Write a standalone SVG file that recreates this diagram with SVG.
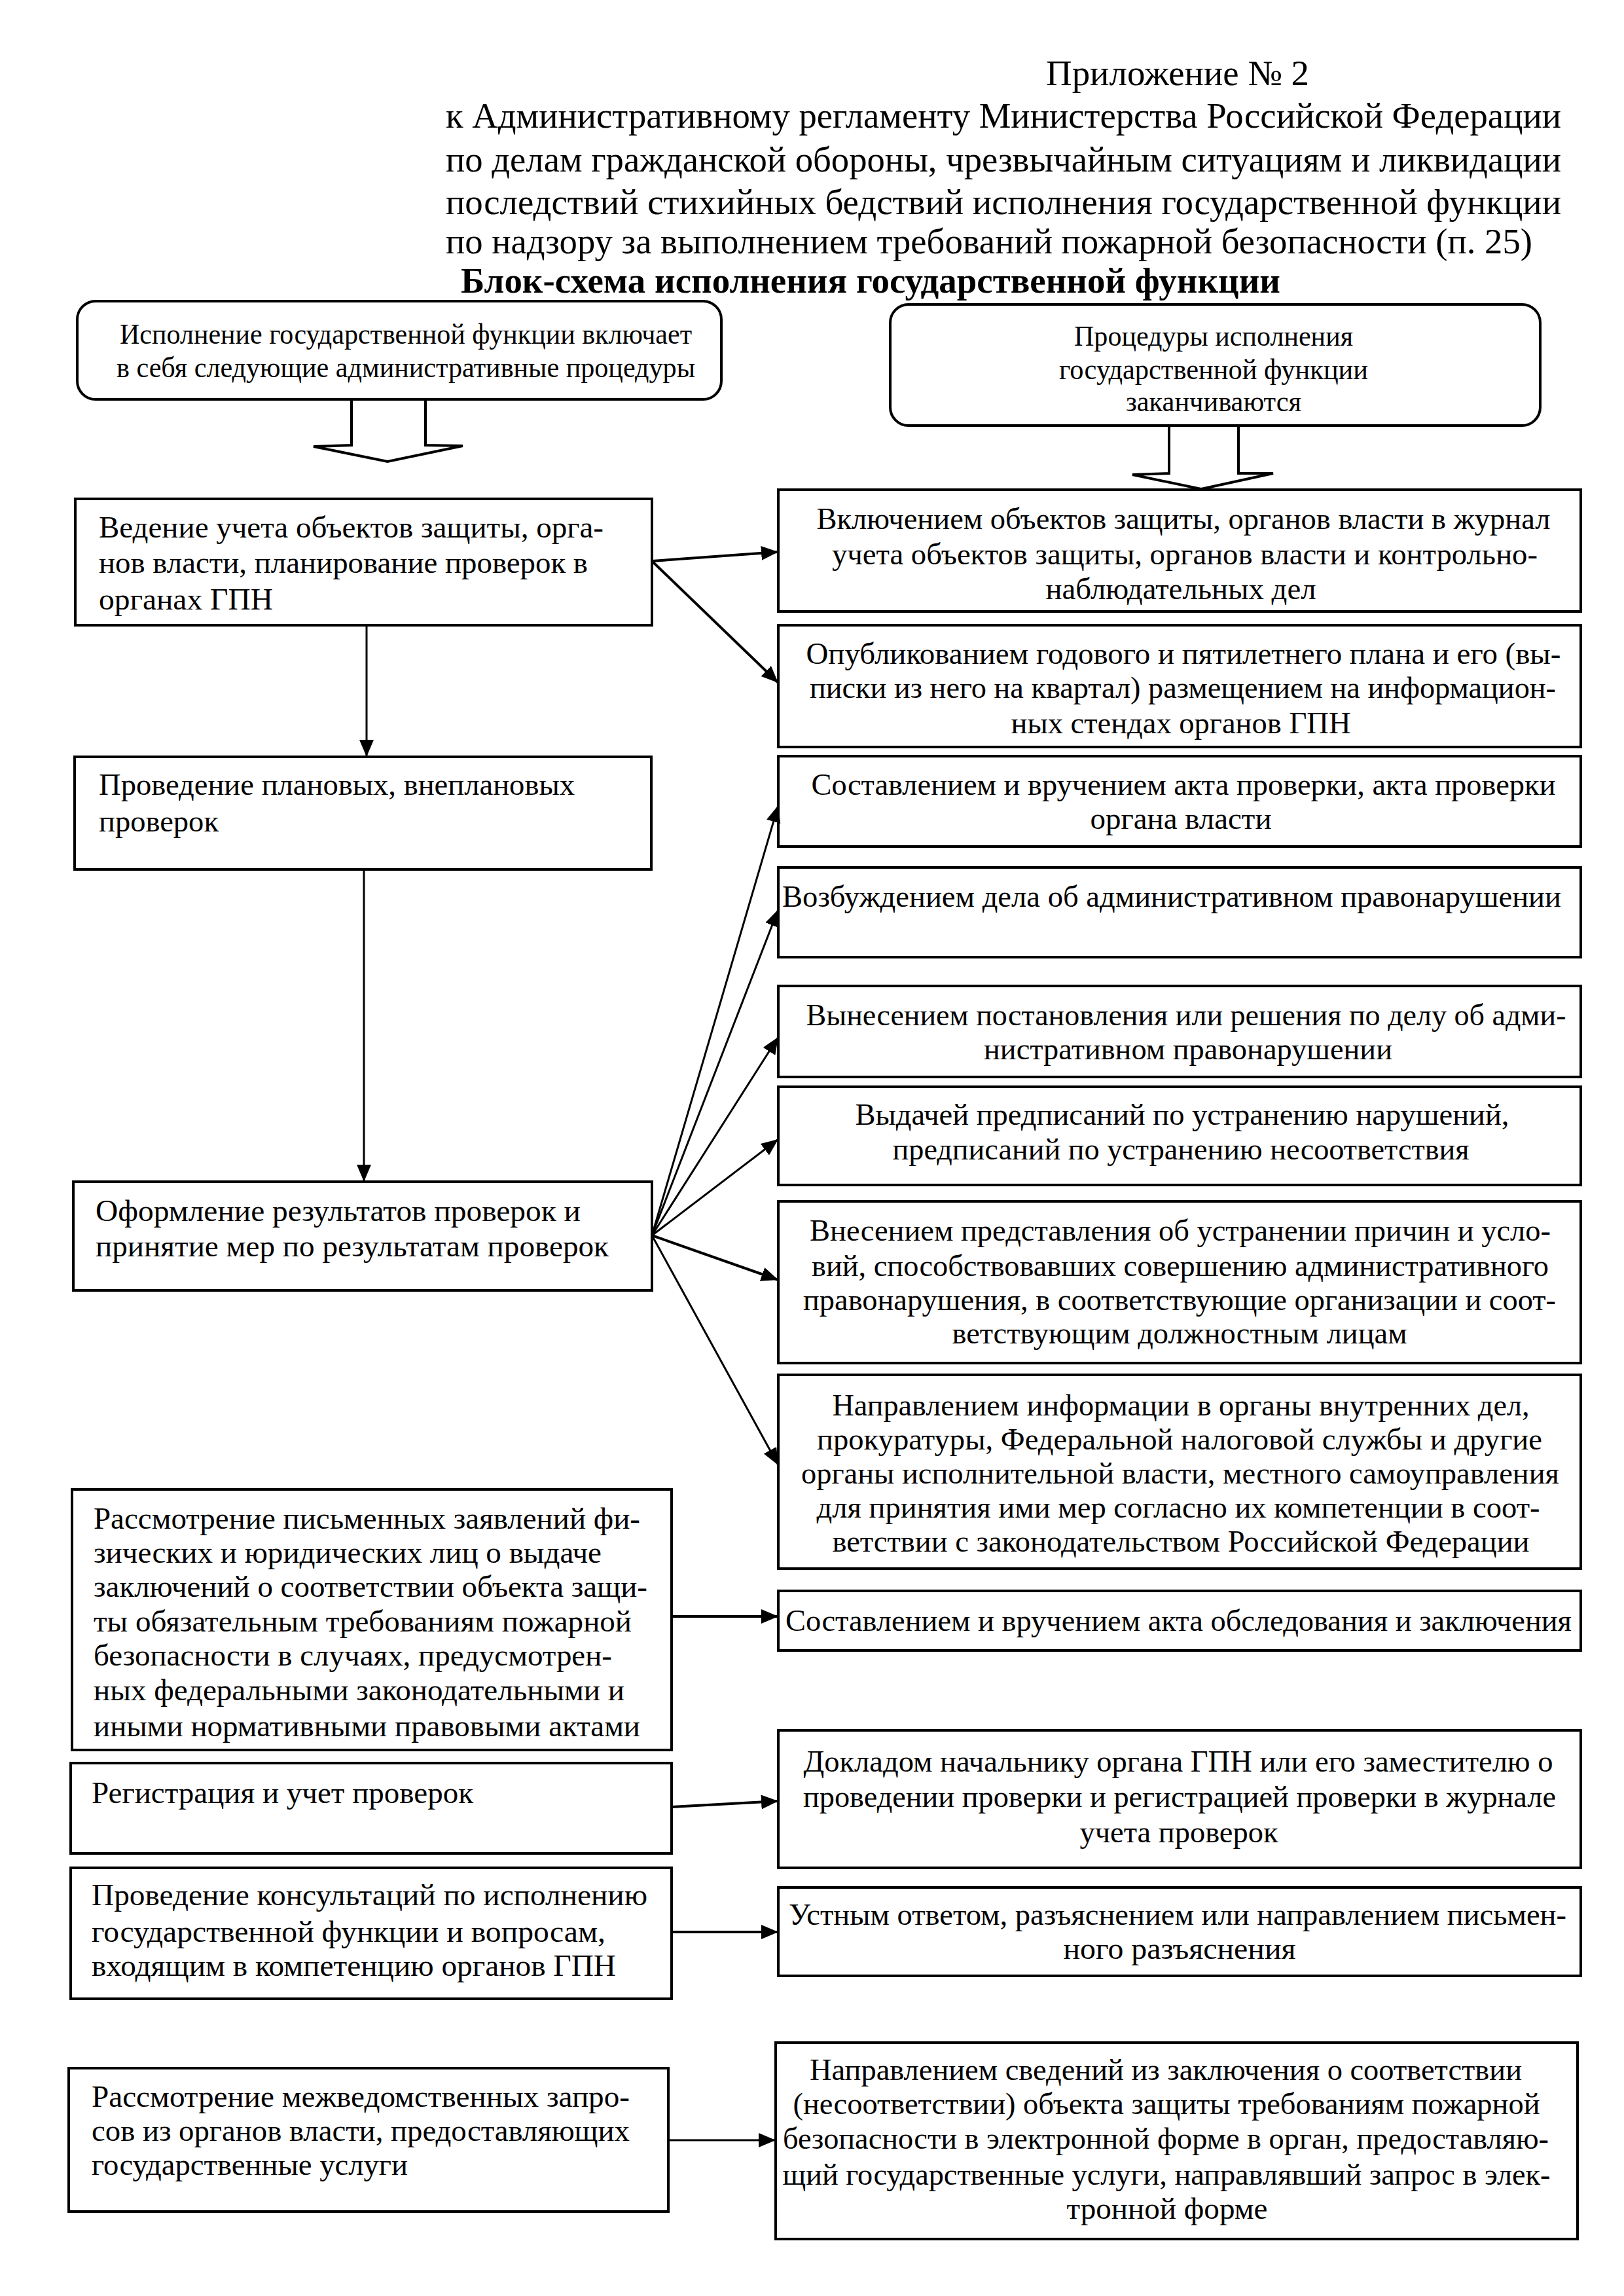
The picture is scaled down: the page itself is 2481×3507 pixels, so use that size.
<svg xmlns="http://www.w3.org/2000/svg" width="2481" height="3507" viewBox="0 0 2481 3507">
<style>
.bg{fill:#fff}
.box{fill:#fff;stroke:#000;stroke-width:4}
.blk{fill:#fff;stroke:#000;stroke-width:4;stroke-linejoin:miter}
.hd{font-family:"Liberation Serif","Times New Roman",serif;font-size:54px;fill:#000}
.ttl{font-family:"Liberation Serif","Times New Roman",serif;font-size:54px;font-weight:bold;fill:#000}
.t{font-family:"Liberation Serif","Times New Roman",serif;font-size:47px;fill:#000}
.ts{font-family:"Liberation Serif","Times New Roman",serif;font-size:44px;fill:#000}
.c{text-anchor:middle}
.ln{stroke:#000;stroke-width:3;fill:none;marker-end:url(#ah)}
.lnb{stroke:#000;stroke-width:4;fill:none;marker-end:url(#ah)}
</style>
<defs>
<marker id="ah" markerUnits="userSpaceOnUse" markerWidth="28" markerHeight="24" refX="26" refY="11" orient="auto">
<path d="M0,0 L26,11 L0,22 z" fill="#000"/>
</marker>
</defs>
<rect class="bg" x="0" y="0" width="2481" height="3507"/>

<g id="header">
<text class="hd" x="1598" y="130" textLength="402" lengthAdjust="spacingAndGlyphs">Приложение № 2</text>
<text class="hd" x="681" y="195" textLength="1704" lengthAdjust="spacingAndGlyphs">к Административному регламенту Министерства Российской Федерации</text>
<text class="hd" x="681" y="262" textLength="1704" lengthAdjust="spacingAndGlyphs">по делам гражданской обороны, чрезвычайным ситуациям и ликвидации</text>
<text class="hd" x="681" y="327" textLength="1704" lengthAdjust="spacingAndGlyphs">последствий стихийных бедствий исполнения государственной функции</text>
<text class="hd" x="681" y="387" textLength="1660" lengthAdjust="spacingAndGlyphs">по надзору за выполнением требований пожарной безопасности (п. 25)</text>
<text class="ttl" x="704" y="447" textLength="1252" lengthAdjust="spacingAndGlyphs">Блок-схема исполнения государственной функции</text>
</g>

<g id="n_start">
<rect class="box" x="118" y="460" width="984" height="150" rx="28" ry="28"/>
<text class="ts c" x="620" y="525" textLength="874" lengthAdjust="spacingAndGlyphs">Исполнение государственной функции включает</text>
<text class="ts c" x="620" y="576" textLength="884" lengthAdjust="spacingAndGlyphs">в себя следующие административные процедуры</text>
</g>

<g id="n_end">
<rect class="box" x="1360" y="465" width="993" height="185" rx="28" ry="28"/>
<text class="ts c" x="1854" y="528" textLength="426" lengthAdjust="spacingAndGlyphs">Процедуры исполнения</text>
<text class="ts c" x="1854" y="579" textLength="472" lengthAdjust="spacingAndGlyphs">государственной функции</text>
<text class="ts c" x="1854" y="628" textLength="268" lengthAdjust="spacingAndGlyphs">заканчиваются</text>
</g>

<g id="n_vedenie">
<rect class="box" x="115" y="762" width="881" height="193"/>
<text class="t" x="151" y="821" textLength="771" lengthAdjust="spacingAndGlyphs">Ведение учета объектов защиты, орга-</text>
<text class="t" x="151" y="875" textLength="747" lengthAdjust="spacingAndGlyphs">нов власти, планирование проверок в</text>
<text class="t" x="151" y="931" textLength="266" lengthAdjust="spacingAndGlyphs">органах ГПН</text>
</g>

<g id="n_vklyuch">
<rect class="box" x="1189" y="748" width="1226" height="186"/>
<text class="t c" x="1808" y="808" textLength="1121" lengthAdjust="spacingAndGlyphs">Включением объектов защиты, органов власти в журнал</text>
<text class="t c" x="1810" y="862" textLength="1078" lengthAdjust="spacingAndGlyphs">учета объектов защиты, органов власти и контрольно-</text>
<text class="t c" x="1804" y="915" textLength="413" lengthAdjust="spacingAndGlyphs">наблюдательных дел</text>
</g>

<g id="n_opubl">
<rect class="box" x="1189" y="955" width="1226" height="186"/>
<text class="t c" x="1808" y="1014" textLength="1153" lengthAdjust="spacingAndGlyphs">Опубликованием годового и пятилетнего плана и его (вы-</text>
<text class="t c" x="1807" y="1066" textLength="1140" lengthAdjust="spacingAndGlyphs">писки из него на квартал) размещением на информацион-</text>
<text class="t c" x="1804" y="1120" textLength="519" lengthAdjust="spacingAndGlyphs">ных стендах органов ГПН</text>
</g>

<g id="n_provedenie">
<rect class="box" x="114" y="1156" width="881" height="172"/>
<text class="t" x="151" y="1214" textLength="727" lengthAdjust="spacingAndGlyphs">Проведение плановых, внеплановых</text>
<text class="t" x="151" y="1270" textLength="183" lengthAdjust="spacingAndGlyphs">проверок</text>
</g>

<g id="n_sostavl">
<rect class="box" x="1189" y="1155" width="1226" height="138"/>
<text class="t c" x="1808" y="1214" textLength="1137" lengthAdjust="spacingAndGlyphs">Составлением и вручением акта проверки, акта проверки</text>
<text class="t c" x="1804" y="1266" textLength="277" lengthAdjust="spacingAndGlyphs">органа власти</text>
</g>

<g id="n_vozbuzh">
<rect class="box" x="1189" y="1325" width="1226" height="137"/>
<text class="t" x="1195" y="1385" textLength="1190" lengthAdjust="spacingAndGlyphs">Возбуждением дела об административном правонарушении</text>
</g>

<g id="n_vynesen">
<rect class="box" x="1189" y="1506" width="1226" height="139"/>
<text class="t c" x="1812" y="1566" textLength="1161" lengthAdjust="spacingAndGlyphs">Вынесением постановления или решения по делу об адми-</text>
<text class="t c" x="1815" y="1618" textLength="624" lengthAdjust="spacingAndGlyphs">нистративном правонарушении</text>
</g>

<g id="n_vydachey">
<rect class="box" x="1189" y="1660" width="1226" height="150"/>
<text class="t c" x="1806" y="1718" textLength="999" lengthAdjust="spacingAndGlyphs">Выдачей предписаний по устранению нарушений,</text>
<text class="t c" x="1804" y="1771" textLength="881" lengthAdjust="spacingAndGlyphs">предписаний по устранению несоответствия</text>
</g>

<g id="n_oformlenie">
<rect class="box" x="112" y="1805" width="884" height="166"/>
<text class="t" x="146" y="1865" textLength="741" lengthAdjust="spacingAndGlyphs">Оформление результатов проверок и</text>
<text class="t" x="146" y="1919" textLength="784" lengthAdjust="spacingAndGlyphs">принятие мер по результатам проверок</text>
</g>

<g id="n_vnesen">
<rect class="box" x="1189" y="1835" width="1226" height="247"/>
<text class="t c" x="1803" y="1895" textLength="1132" lengthAdjust="spacingAndGlyphs">Внесением представления об устранении причин и усло-</text>
<text class="t c" x="1803" y="1949" textLength="1126" lengthAdjust="spacingAndGlyphs">вий, способствовавших совершению административного</text>
<text class="t c" x="1802" y="2001" textLength="1150" lengthAdjust="spacingAndGlyphs">правонарушения, в соответствующие организации и соот-</text>
<text class="t c" x="1802" y="2052" textLength="695" lengthAdjust="spacingAndGlyphs">ветствующим должностным лицам</text>
</g>

<g id="n_napravl">
<rect class="box" x="1189" y="2100" width="1226" height="296"/>
<text class="t c" x="1804" y="2162" textLength="1065" lengthAdjust="spacingAndGlyphs">Направлением информации в органы внутренних дел,</text>
<text class="t c" x="1802" y="2214" textLength="1108" lengthAdjust="spacingAndGlyphs">прокуратуры, Федеральной налоговой службы и другие</text>
<text class="t c" x="1803" y="2266" textLength="1158" lengthAdjust="spacingAndGlyphs">органы исполнительной власти, местного самоуправления</text>
<text class="t c" x="1800" y="2318" textLength="1105" lengthAdjust="spacingAndGlyphs">для принятия ими мер согласно их компетенции в соот-</text>
<text class="t c" x="1804" y="2370" textLength="1065" lengthAdjust="spacingAndGlyphs">ветствии с законодательством Российской Федерации</text>
</g>

<g id="n_rassmotr">
<rect class="box" x="110" y="2275" width="916" height="398"/>
<text class="t" x="143" y="2335" textLength="835" lengthAdjust="spacingAndGlyphs">Рассмотрение письменных заявлений фи-</text>
<text class="t" x="143" y="2387" textLength="776" lengthAdjust="spacingAndGlyphs">зических и юридических лиц о выдаче</text>
<text class="t" x="143" y="2439" textLength="846" lengthAdjust="spacingAndGlyphs">заключений о соответствии объекта защи-</text>
<text class="t" x="143" y="2492" textLength="822" lengthAdjust="spacingAndGlyphs">ты обязательным требованиям пожарной</text>
<text class="t" x="143" y="2544" textLength="792" lengthAdjust="spacingAndGlyphs">безопасности в случаях, предусмотрен-</text>
<text class="t" x="143" y="2597" textLength="811" lengthAdjust="spacingAndGlyphs">ных федеральными законодательными и</text>
<text class="t" x="143" y="2652" textLength="835" lengthAdjust="spacingAndGlyphs">иными нормативными правовыми актами</text>
</g>

<g id="n_sostavl2">
<rect class="box" x="1189" y="2430" width="1226" height="91"/>
<text class="t" x="1200" y="2491" textLength="1201" lengthAdjust="spacingAndGlyphs">Составлением и вручением акта обследования и заключения</text>
</g>

<g id="n_registr">
<rect class="box" x="108" y="2693" width="918" height="138"/>
<text class="t" x="140" y="2754" textLength="583" lengthAdjust="spacingAndGlyphs">Регистрация и учет проверок</text>
</g>

<g id="n_doklad">
<rect class="box" x="1189" y="2643" width="1226" height="210"/>
<text class="t c" x="1800" y="2706" textLength="1145" lengthAdjust="spacingAndGlyphs">Докладом начальнику органа ГПН или его заместителю о</text>
<text class="t c" x="1802" y="2760" textLength="1150" lengthAdjust="spacingAndGlyphs">проведении проверки и регистрацией проверки в журнале</text>
<text class="t c" x="1801" y="2814" textLength="303" lengthAdjust="spacingAndGlyphs">учета проверок</text>
</g>

<g id="n_konsult">
<rect class="box" x="108" y="2853" width="918" height="200"/>
<text class="t" x="140" y="2910" textLength="849" lengthAdjust="spacingAndGlyphs">Проведение консультаций по исполнению</text>
<text class="t" x="140" y="2966" textLength="785" lengthAdjust="spacingAndGlyphs">государственной функции и вопросам,</text>
<text class="t" x="140" y="3018" textLength="801" lengthAdjust="spacingAndGlyphs">входящим в компетенцию органов ГПН</text>
</g>

<g id="n_ustnym">
<rect class="box" x="1189" y="2883" width="1226" height="135"/>
<text class="t c" x="1799" y="2940" textLength="1188" lengthAdjust="spacingAndGlyphs">Устным ответом, разъяснением или направлением письмен-</text>
<text class="t c" x="1802" y="2992" textLength="355" lengthAdjust="spacingAndGlyphs">ного разъяснения</text>
</g>

<g id="n_mezhved">
<rect class="box" x="105" y="3159" width="916" height="219"/>
<text class="t" x="140" y="3218" textLength="822" lengthAdjust="spacingAndGlyphs">Рассмотрение межведомственных запро-</text>
<text class="t" x="140" y="3270" textLength="822" lengthAdjust="spacingAndGlyphs">сов из органов власти, предоставляющих</text>
<text class="t" x="140" y="3322" textLength="483" lengthAdjust="spacingAndGlyphs">государственные услуги</text>
</g>

<g id="n_napravl2">
<rect class="box" x="1185" y="3120" width="1225" height="300"/>
<text class="t c" x="1781" y="3177" textLength="1088" lengthAdjust="spacingAndGlyphs">Направлением сведений из заключения о соответствии</text>
<text class="t c" x="1782" y="3229" textLength="1141" lengthAdjust="spacingAndGlyphs">(несоответствии) объекта защиты требованиям пожарной</text>
<text class="t c" x="1781" y="3282" textLength="1170" lengthAdjust="spacingAndGlyphs">безопасности в электронной форме в орган, предоставляю-</text>
<text class="t c" x="1782" y="3337" textLength="1173" lengthAdjust="spacingAndGlyphs">щий государственные услуги, направлявший запрос в элек-</text>
<text class="t c" x="1783" y="3389" textLength="307" lengthAdjust="spacingAndGlyphs">тронной форме</text>
</g>

<g id="connectors">
<polygon class="blk" points="537,610 537,680 479,682 592,705 707,681 650,680 650,610"/>
<polygon class="blk" points="1786,650 1786,723 1730,725 1835,747 1945,723 1892,723 1892,650"/>
<line class="lnb" x1="996" y1="857" x2="1189" y2="843"/>
<line class="lnb" x1="996" y1="857" x2="1189" y2="1043"/>
<line class="ln" x1="560" y1="955" x2="560" y2="1156"/>
<line class="ln" x1="556" y1="1328" x2="556" y2="1805"/>
<line class="ln" x1="996" y1="1887" x2="1189" y2="1230"/>
<line class="ln" x1="996" y1="1887" x2="1189" y2="1389"/>
<line class="ln" x1="996" y1="1887" x2="1189" y2="1584"/>
<line class="ln" x1="996" y1="1887" x2="1189" y2="1740"/>
<line class="lnb" x1="996" y1="1887" x2="1189" y2="1955"/>
<line class="ln" x1="996" y1="1887" x2="1189" y2="2238"/>
<line class="lnb" x1="1026" y1="2469" x2="1189" y2="2469"/>
<line class="lnb" x1="1026" y1="2760" x2="1189" y2="2751"/>
<line class="lnb" x1="1026" y1="2951" x2="1189" y2="2951"/>
<line class="ln" x1="1021" y1="3269" x2="1185" y2="3269"/>
</g>
</svg>
